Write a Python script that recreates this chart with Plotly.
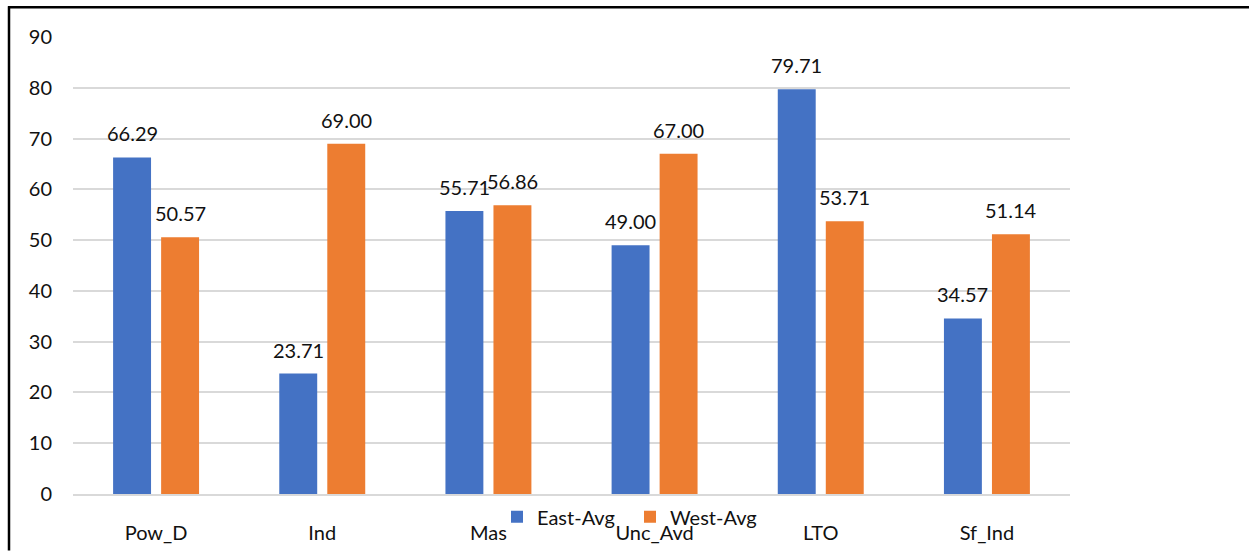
import plotly.graph_objects as go

categories = ["Pow_D", "Ind", "Mas", "Unc_Avd", "LTO", "Sf_Ind"]
east_avg = [66.29, 23.71, 55.71, 49.00, 79.71, 34.57]
west_avg = [50.57, 69.00, 56.86, 67.00, 53.71, 51.14]
y_ticks = [0, 10, 20, 30, 40, 50, 60, 70, 80, 90]

W, H = 1249, 556
L, R, T, B = 73, 179, 37, 57
pw, ph = W - L - R, H - T - B

def px_x(x):
    return (x - L) / pw

def px_y(y):
    return (H - B - y) / ph

FONT = "Lato, Carlito, Calibri, sans-serif"
TXT = "#111111"
FS = 20

series = [("East-Avg", east_avg, "#4472C4", -24), ("West-Avg", west_avg, "#ED7D31", 24)]

fig = go.Figure()
for name, vals, color, _ in series:
    fig.add_trace(go.Bar(name=name, x=categories, y=vals, marker_color=color,
                         marker_line_width=0))

# value labels above each bar
annotations = []
for name, vals, color, dx in series:
    for cat, v in zip(categories, vals):
        annotations.append(dict(x=cat, y=v, xref="x", yref="y", text=f"{v:.2f}",
                                showarrow=False, xshift=dx, yshift=24,
                                xanchor="center", yanchor="middle",
                                font=dict(size=FS, color=TXT, family=FONT)))

fig.update_layout(
    width=W, height=H,
    margin=dict(l=L, r=R, t=T, b=B, pad=0),
    paper_bgcolor="white", plot_bgcolor="white",
    font=dict(family=FONT, size=FS, color=TXT),
    barmode="group", bargap=0.422, bargroupgap=0.21,
    showlegend=True,
    legend=dict(orientation="h", x=px_x(497), y=px_y(522),
                xanchor="left", yanchor="middle",
                bgcolor="rgba(0,0,0,0)", font=dict(size=FS, color=TXT),
                itemwidth=30, tracegroupgap=0,
                entrywidth=88, entrywidthmode="pixels"),
    xaxis=dict(showgrid=False, showline=True, linecolor="#d9d9d9", linewidth=1.5,
               ticks="", tickfont=dict(size=FS, color=TXT), ticklabelstandoff=20,
               zeroline=False),
    yaxis=dict(range=[0, 90], tickvals=y_ticks, showgrid=True, gridcolor="#d9d9d9",
               gridwidth=1.5, zeroline=False, showline=False, ticks="",
               tickfont=dict(size=FS, color=TXT), ticklabelstandoff=20),
    annotations=annotations,
    # chart frame: left and top edges
    shapes=[
        dict(type="line", xref="paper", yref="paper",
             x0=px_x(9), x1=px_x(9), y0=px_y(6), y1=px_y(H),
             line=dict(color="black", width=2.5), layer="above"),
        dict(type="line", xref="paper", yref="paper",
             x0=px_x(8), x1=px_x(W), y0=px_y(7), y1=px_y(7),
             line=dict(color="black", width=2.5), layer="above"),
    ],
)

fig.write_html("out.html")
